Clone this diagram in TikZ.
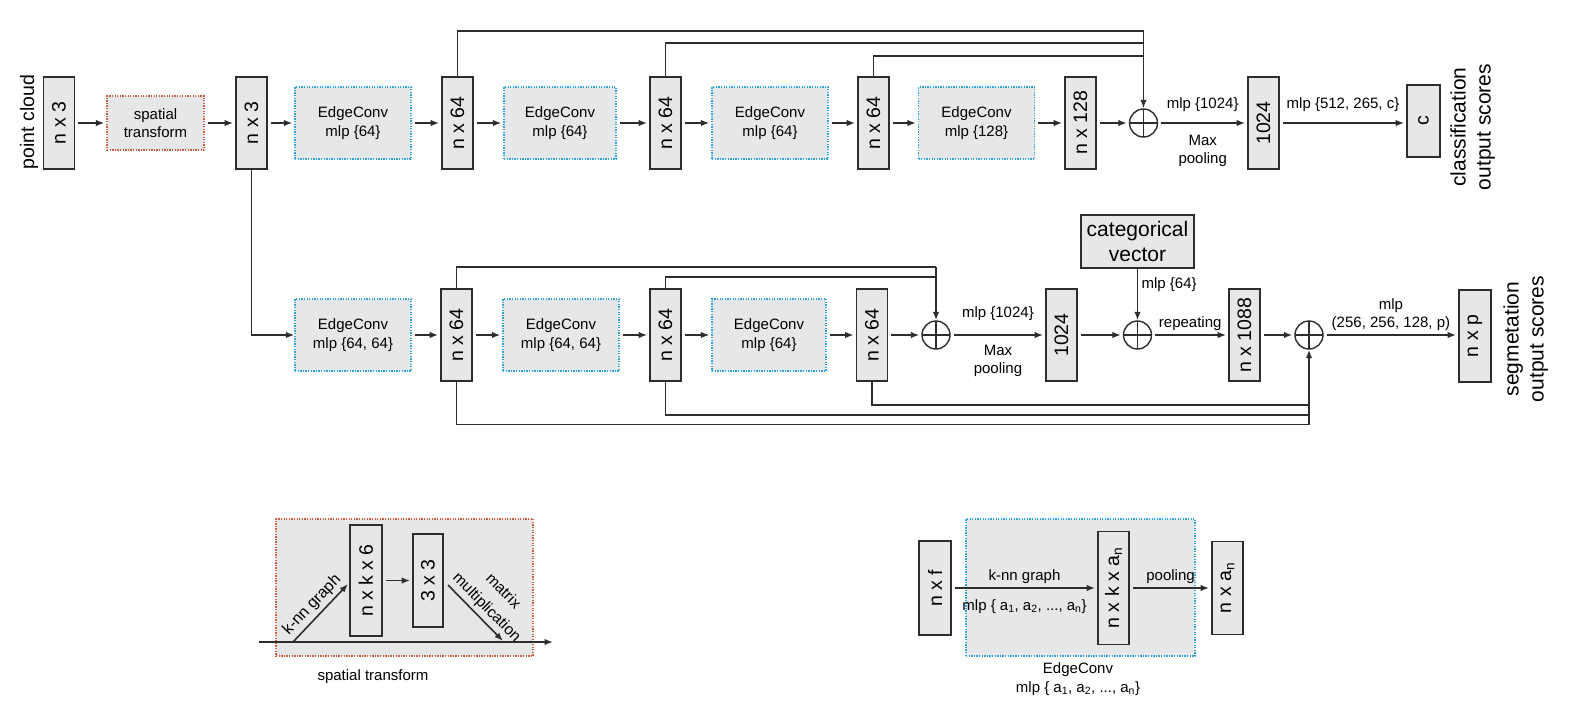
\documentclass[tikz,border=0pt]{standalone}
\usepackage{fontspec}
\setmainfont{Liberation Sans}
\usepackage{graphicx}
\usetikzlibrary{arrows.meta,calc}
\definecolor{boxgrey}{RGB}{230,231,232}
\definecolor{edgedark}{RGB}{45,45,45}
\definecolor{stred}{RGB}{200,95,60}
\definecolor{ecblue}{RGB}{45,165,220}
\newcommand{\fsS}{\fontsize{15}{18.5}\selectfont}
\newcommand{\fsM}{\fontsize{19.5}{23}\selectfont}
\newcommand{\fsL}{\fontsize{21}{25}\selectfont}
\newcommand{\vlab}[1]{\rotatebox{90}{#1}}
\begin{document}
\begin{tikzpicture}[x=1pt,y=-1pt,
  vbox/.style={draw=edgedark,fill=boxgrey,line width=1.7pt,minimum width=31pt,minimum height=92pt,inner sep=0pt,font=\fsM},
  ecbox/.style={draw=ecblue,fill=boxgrey,line width=1.3pt,dash pattern=on 1.3pt off 1.3pt,minimum width=116pt,minimum height=72pt,inner sep=0pt,align=center,font=\fsS},
  stbox/.style={draw=stred,fill=boxgrey,line width=1.3pt,dash pattern=on 1.3pt off 1.3pt,minimum width=97pt,minimum height=54pt,inner sep=0pt,align=center,font=\fsS},
  catbox/.style={draw=edgedark,fill=boxgrey,line width=1.7pt,minimum width=113pt,minimum height=53pt,inner sep=0pt,align=center,font=\fsL},
  opl/.style={circle,draw=edgedark,fill=white,line width=1.4pt,minimum size=28pt,inner sep=0pt,
    path picture={\draw[edgedark,line width=1.2pt] (path picture bounding box.north) -- (path picture bounding box.south) (path picture bounding box.west) -- (path picture bounding box.east);}},
  conn/.style={draw=edgedark,line width=1.6pt},
  arr/.style={conn,-{Latex[length=8.5pt,width=6.5pt]}},
  sarr/.style={arr,shorten <=3pt,shorten >=2pt},
  lab/.style={font=\fsS,align=center,text=black}
]
\path[use as bounding box] (0,0) rectangle (1581,716);

% ---------------- Row 1 ----------------
\node[font=\fsM] (pclab) at (29,122) {\vlab{point cloud}};
\node[vbox] (pc) at (59,123) {\vlab{n x 3}};
\node[stbox] (st) at (155.5,123) {spatial\\transform};
\node[vbox] (nx3) at (251.5,123) {\vlab{n x 3}};
\node[ecbox] (ec1) at (353,123) {EdgeConv\\mlp \{64\}};
\node[vbox] (a1) at (457.5,123) {\vlab{n x 64}};
\node[ecbox,minimum width=112pt] (ec2) at (560,123) {EdgeConv\\mlp \{64\}};
\node[vbox] (a2) at (665.5,123) {\vlab{n x 64}};
\node[ecbox] (ec3) at (770,123) {EdgeConv\\mlp \{64\}};
\node[vbox] (a3) at (873.5,123) {\vlab{n x 64}};
\node[ecbox] (ec4) at (976.5,123) {EdgeConv\\mlp \{128\}};
\node[vbox] (a4) at (1080.5,123) {\vlab{n x 128}};
\node[opl] (op1) at (1143.5,123) {};
\node[vbox] (g1) at (1263.5,123) {\vlab{1024}};
\node[vbox,minimum width=33pt,minimum height=72pt] (cls) at (1423.5,121) {\vlab{c}};
\node[font=\fsL] (clslab) at (1473,127) {\vlab{\begin{tabular}{@{}c@{}}classification\\output scores\end{tabular}}};

\draw[sarr] (pc) -- (st);
\draw[sarr] (st) -- (nx3);
\draw[sarr] (nx3) -- (ec1);
\draw[sarr] (ec1) -- (a1);
\draw[sarr] (a1) -- (ec2);
\draw[sarr] (ec2) -- (a2);
\draw[sarr] (a2) -- (ec3);
\draw[sarr] (ec3) -- (a3);
\draw[sarr] (a3) -- (ec4);
\draw[sarr] (ec4) -- (a4);
\draw[sarr] (a4) -- (op1);
\draw[sarr] (op1) -- node[lab,above=7pt] (l1) {mlp \{1024\}} node[lab,below=8pt] (l2) {Max\\pooling} (g1);
\draw[sarr] (g1.east|-op1) -- node[lab,above=7pt,pos=0.5] (l3) {mlp \{512, 265, c\}} (cls.west|-op1);

\coordinate (t1) at (1143.5,31);
\coordinate (t2) at (1143.5,43);
\coordinate (t3) at (1143.5,56);
\draw[conn] (a1.north) |- (t1);
\draw[conn] (a2.north) |- (t2);
\draw[conn] (a3.north) |- (t3);
\draw[arr] (t1) -- (op1.north);

% ---------------- Row 2 ----------------
\node[ecbox] (ec5) at (353,335) {EdgeConv\\mlp \{64, 64\}};
\node[vbox] (b1) at (456.5,335) {\vlab{n x 64}};
\node[ecbox] (ec6) at (561,335) {EdgeConv\\mlp \{64, 64\}};
\node[vbox] (b2) at (665.5,335) {\vlab{n x 64}};
\node[ecbox,minimum width=114pt] (ec7) at (769,335) {EdgeConv\\mlp \{64\}};
\node[vbox] (b3) at (872,335) {\vlab{n x 64}};
\node[opl] (op2) at (936,335) {};
\node[vbox] (g2) at (1061.5,335) {\vlab{1024}};
\node[opl] (op3) at (1137.5,335) {};
\node[catbox] (cat) at (1137.5,241.5) {categorical\\vector};
\node[vbox] (r1) at (1244.5,335) {\vlab{n x 1088}};
\node[opl] (op4) at (1309,335) {};
\node[vbox,minimum width=32pt] (seg) at (1475,336) {\vlab{n x p}};
\node[font=\fsL] (seglab) at (1526,339) {\vlab{\begin{tabular}{@{}c@{}}segmetation\\output scores\end{tabular}}};

\draw[arr] (nx3.south) |- (ec5.west);
\draw[sarr] (ec5) -- (b1);
\draw[sarr] (b1) -- (ec6);
\draw[sarr] (ec6) -- (b2);
\draw[sarr] (b2) -- (ec7);
\draw[sarr] (ec7) -- (b3);
\draw[sarr] (b3) -- (op2);
\draw[sarr] (op2) -- node[lab,above=10pt] (l4) {mlp \{1024\}} node[lab,below=6pt] (l5) {Max\\pooling} (g2);
\draw[sarr] (g2) -- (op3);
\draw[arr] (cat) -- node[lab,right,pos=0.3] (l6) {mlp \{64\}} (op3);
\draw[sarr] (op3) -- node[lab,above] (l7) {repeating} (r1);
\draw[sarr] (r1) -- (op4);
\draw[sarr] (op4) -- node[lab,above] (l8) {mlp\\(256, 256, 128, p)} (seg.west|-op4);

\coordinate (u1) at (936,267);
\coordinate (u2) at (936,277);
\draw[conn] (b1.north) |- (u1);
\draw[conn] (b2.north) |- (u2);
\draw[arr] (u1) -- (op2.north);

\coordinate (d1) at (1309,424.5);
\coordinate (d2) at (1309,415);
\coordinate (d3) at (1309,405);
\draw[conn] (b1.south) |- (d1);
\draw[conn] (b2.south) |- (d2);
\draw[conn] (b3.south) |- (d3);
\draw[arr] (d1) -- (op4.south);

% ---------------- Spatial transform detail ----------------
\node[stbox,minimum width=257pt,minimum height=137pt] (stbg) at (404.5,587.5) {};
\coordinate (hs) at (259,642);
\coordinate (he) at (553,642);
\draw[arr] (hs) -- (he);
\node[vbox,minimum width=32pt,minimum height=111pt] (nk6) at (366,580.5) {\vlab{n x k x 6}};
\node[vbox,minimum width=30pt,minimum height=93pt] (m33) at (428,580.5) {\vlab{3 x 3}};
\draw[sarr] (nk6) -- (m33);
\coordinate (kn0) at (293,642);
\coordinate (kn1) at (348,584);
\draw[arr] (kn0) -- node[lab,sloped,above,font=\fontsize{16}{19}\selectfont] (l9) {k-nn graph} (kn1);
\coordinate (mm0) at (448,585);
\coordinate (mm1) at (503,641);
\draw[arr] (mm0) -- node[lab,sloped,above,pos=0.55,font=\fontsize{15.5}{23}\selectfont] (l10) {matrix\\multiplication} (mm1);
\node[lab] (stcap) at (373,677) {spatial transform};

% ---------------- EdgeConv detail ----------------
\node[ecbox,minimum width=229pt,minimum height=137pt] (ecbg) at (1080.5,587.5) {};
\node[vbox,minimum width=32pt,minimum height=94pt] (nf) at (935,588) {\vlab{n x f}};
\node[vbox,minimum width=31pt,minimum height=113pt] (nka) at (1113.5,588) {\vlab{n x k x a\textsubscript{n}}};
\node[vbox,minimum width=31pt,minimum height=93pt] (na) at (1227.5,588) {\vlab{n x a\textsubscript{n}}};
\draw[sarr] (nf) -- node[lab,above] (l11) {k-nn graph} node[lab,below=7pt] (l12) {mlp \{ a\textsubscript{1}, a\textsubscript{2}, ..., a\textsubscript{n}\}} (nka);
\draw[sarr] (nka) -- node[lab,above] (l13) {pooling} (na);
\node[lab] (eccap) at (1078,679) {EdgeConv\\mlp \{ a\textsubscript{1}, a\textsubscript{2}, ..., a\textsubscript{n}\}};
\end{tikzpicture}
\end{document}
